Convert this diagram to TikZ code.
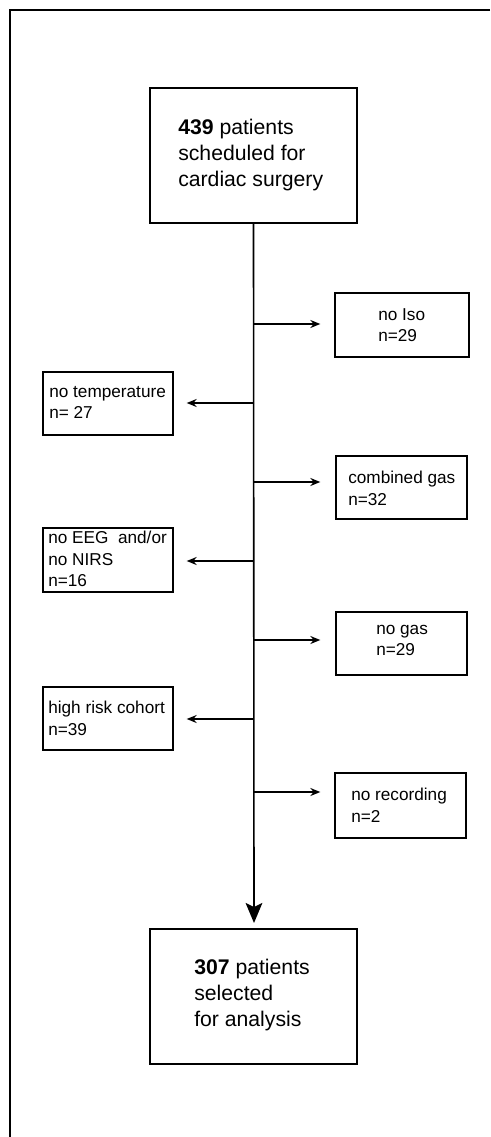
\documentclass[tikz,border=0pt]{standalone}
\usepackage{fontspec}
\setmainfont{Liberation Sans}
\usetikzlibrary{arrows.meta}
\begin{document}
\begin{tikzpicture}[x=0.75pt,y=-0.75pt,
  bigbox/.style={draw, line width=1.6pt, minimum width=207*0.75pt, minimum height=135*0.75pt, inner sep=0pt},
  smallbox/.style={draw, line width=1pt, inner sep=0pt},
  bigtext/.style={font=\fontsize{15.9pt}{19.5pt}\selectfont, align=left, inner sep=0pt, anchor=north west},
  smalltext/.style={font=\fontsize{12.9pt}{16pt}\selectfont, align=left, inner sep=0pt, anchor=north west},
  sidearrow/.style={line width=1pt, -{Stealth[length=7.5pt,width=6pt]}},
  mainline/.style={line width=1.2pt}]
\useasboundingbox (0,0) rectangle (491,1137);
% outer frame (top and left edges only visible)
\coordinate (fTL) at (10,10);
\coordinate (fTR) at (490,10);
\coordinate (fBL) at (10,1137);
\draw[line width=1.6pt] (fTR) -- (fTL) -- (fBL);
% main boxes
\node[bigbox] (top) at (253.5,155.5) {};
\node[bigtext] (toptxt) at (178,119) {\textbf{439} patients\\scheduled for\\cardiac surgery};
\node[bigbox] (bot) at (253.5,996.5) {};
\node[bigtext] (bottxt) at (194,959) {\textbf{307} patients\\selected\\for analysis};
% right boxes
\node[smallbox, minimum width=134*0.75pt, minimum height=64*0.75pt] (iso) at (402,325) {};
\node[smalltext] (isotxt) at (378,308) {no Iso\\n=29};
\node[smallbox, minimum width=131*0.75pt, minimum height=63*0.75pt] (comb) at (401.5,487.5) {};
\node[smalltext] (combtxt) at (348,471) {combined gas\\n=32};
\node[smallbox, minimum width=131*0.75pt, minimum height=63*0.75pt] (nogas) at (401.5,643.5) {};
\node[smalltext] (nogastxt) at (376,625) {no gas\\n=29};
\node[smallbox, minimum width=131*0.75pt, minimum height=65*0.75pt] (norec) at (400.5,805.5) {};
\node[smalltext] (norectxt) at (351,788) {no recording\\n=2};
% left boxes
\node[smallbox, minimum width=130*0.75pt, minimum height=63*0.75pt] (temp) at (108,403.5) {};
\node[smalltext] (temptxt) at (49,386) {no temperature\\n= 27};
\node[smallbox, minimum width=130*0.75pt, minimum height=64*0.75pt] (eeg) at (108,560) {};
\node[smalltext] (eegtxt) at (48,531) {no EEG\ \ and/or\\no NIRS\\n=16};
\node[smallbox, minimum width=130*0.75pt, minimum height=63*0.75pt] (risk) at (108,718.5) {};
\node[smalltext] (risktxt) at (48,701) {high risk cohort\\n=39};
% main flow
\coordinate (tip) at (254,923);
\draw[mainline, -{Stealth[length=15pt,width=12.5pt,inset=3pt]}] (top.south) -- (tip);
% branch points
\coordinate (b1) at (254,324);
\coordinate (b2) at (254,403);
\coordinate (b3) at (254,482);
\coordinate (b4) at (254,561);
\coordinate (b5) at (254,640);
\coordinate (b6) at (254,719);
\coordinate (b7) at (254,792);
\draw[sidearrow] (b1) -- ([xshift=-14*0.75pt]iso.west |- b1);
\draw[sidearrow] (b2) -- ([xshift=13*0.75pt]temp.east |- b2);
\draw[sidearrow] (b3) -- ([xshift=-15*0.75pt]comb.west |- b3);
\draw[sidearrow] (b4) -- ([xshift=13*0.75pt]eeg.east |- b4);
\draw[sidearrow] (b5) -- ([xshift=-15*0.75pt]nogas.west |- b5);
\draw[sidearrow] (b6) -- ([xshift=13*0.75pt]risk.east |- b6);
\draw[sidearrow] (b7) -- ([xshift=-14*0.75pt]norec.west |- b7);
\end{tikzpicture}
\end{document}
